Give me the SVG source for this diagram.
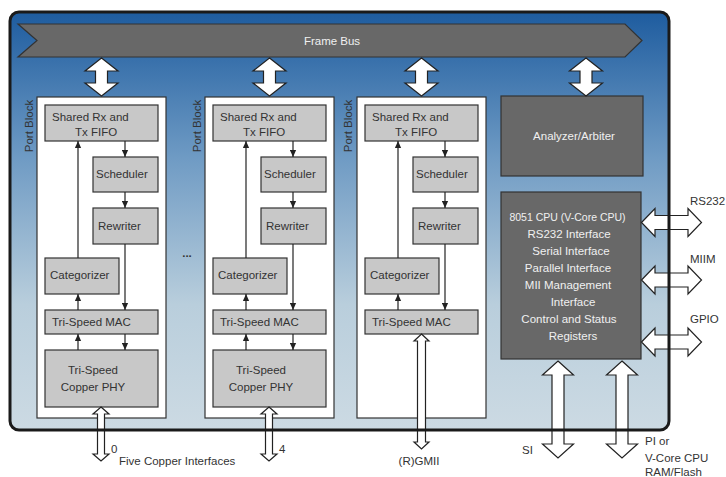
<svg xmlns="http://www.w3.org/2000/svg" width="726" height="477" viewBox="0 0 726 477">
<style>
text{font-family:"Liberation Sans",Arial,sans-serif;font-size:11.5px;fill:#333}
.wt{fill:#f0f0f0}
.port{fill:#fff;stroke:#333;stroke-width:1.2}
.box{fill:#c8c8c8;stroke:#333;stroke-width:1.2}
.dark{fill:#686868;stroke:#333;stroke-width:1.2}
.ln{stroke:#222;stroke-width:1.2;fill:none}
.big{fill:#fff;stroke:#222;stroke-width:1.2;stroke-linejoin:miter}
</style>
<defs>
<linearGradient id="bg" x1="0" y1="0" x2="0" y2="1">
<stop offset="0" stop-color="#1e5c9f"/>
<stop offset="0.35" stop-color="#6f9bc4"/>
<stop offset="0.7" stop-color="#b9cedc"/>
<stop offset="1" stop-color="#ccdae3"/>
</linearGradient>
<marker id="ah" viewBox="0 0 10 10" refX="10" refY="5" markerWidth="7" markerHeight="7" orient="auto" markerUnits="userSpaceOnUse">
<path d="M0,0.5 L10,5 L0,9.5 Z" fill="#222"/>
</marker>
</defs>

<rect id="chip-bg" x="10" y="12" width="659" height="418" rx="9" fill="url(#bg)"/>

<g id="frame-bus">
<polygon points="18,24 625,24 642,40.5 625,57 18,57 37,40.5" fill="#686868" stroke="#333" stroke-width="1.2"/>
<text class="wt" x="332" y="45" text-anchor="middle">Frame Bus</text>
</g>

<g id="port-block-0">
<rect class="port" x="37" y="97" width="129" height="321"/>
<text transform="translate(33,126) rotate(-90)" text-anchor="middle">Port Block</text>
<rect class="box" x="45" y="105" width="113" height="36"/>
<text x="52" y="121">Shared Rx and</text>
<text x="75" y="136">Tx FIFO</text>
<rect class="box" x="93" y="157" width="65" height="35"/>
<text x="96" y="178">Scheduler</text>
<rect class="box" x="93" y="208" width="65" height="36"/>
<text x="98" y="230">Rewriter</text>
<rect class="box" x="45" y="258" width="74" height="36"/>
<text x="50" y="279">Categorizer</text>
<rect class="box" x="45" y="310" width="113" height="24"/>
<text x="52" y="326">Tri-Speed MAC</text>
<rect class="box" x="45" y="350" width="113" height="57"/>
<text x="93" y="374" text-anchor="middle">Tri-Speed</text>
<text x="93" y="391" text-anchor="middle">Copper PHY</text>
</g>

<g id="port-block-4" transform="translate(168,0)">
<rect class="port" x="37" y="97" width="129" height="321"/>
<text transform="translate(33,126) rotate(-90)" text-anchor="middle">Port Block</text>
<rect class="box" x="45" y="105" width="113" height="36"/>
<text x="52" y="121">Shared Rx and</text>
<text x="75" y="136">Tx FIFO</text>
<rect class="box" x="93" y="157" width="65" height="35"/>
<text x="96" y="178">Scheduler</text>
<rect class="box" x="93" y="208" width="65" height="36"/>
<text x="98" y="230">Rewriter</text>
<rect class="box" x="45" y="258" width="74" height="36"/>
<text x="50" y="279">Categorizer</text>
<rect class="box" x="45" y="310" width="113" height="24"/>
<text x="52" y="326">Tri-Speed MAC</text>
<rect class="box" x="45" y="350" width="113" height="57"/>
<text x="93" y="374" text-anchor="middle">Tri-Speed</text>
<text x="93" y="391" text-anchor="middle">Copper PHY</text>
</g>

<g id="port-block-rgmii" transform="translate(320,0)">
<rect class="port" x="37" y="97" width="129" height="321"/>
<text transform="translate(32,126) rotate(-90)" text-anchor="middle">Port Block</text>
<rect class="box" x="45" y="105" width="113" height="36"/>
<text x="52" y="121">Shared Rx and</text>
<text x="75" y="136">Tx FIFO</text>
<rect class="box" x="93" y="157" width="65" height="35"/>
<text x="96" y="178">Scheduler</text>
<rect class="box" x="93" y="208" width="65" height="36"/>
<text x="98" y="230">Rewriter</text>
<rect class="box" x="45" y="258" width="74" height="36"/>
<text x="50" y="279">Categorizer</text>
<rect class="box" x="45" y="310" width="113" height="24"/>
<text x="52" y="326">Tri-Speed MAC</text>
</g>

<g id="ellipsis">
<text x="187" y="257" text-anchor="middle" style="font-weight:bold">...</text>
</g>

<g id="analyzer">
<rect class="dark" x="501" y="96" width="142" height="80"/>
<text class="wt" x="574" y="140" text-anchor="middle">Analyzer/Arbiter</text>
</g>

<g id="cpu">
<rect class="dark" x="501" y="192" width="140" height="167"/>
<g class="wt" text-anchor="middle">
<text class="wt" x="567.5" y="221" style="font-size:10.5px">8051 CPU (V-Core CPU)</text>
<text class="wt" x="569" y="238">RS232 Interface</text>
<text class="wt" x="571" y="255">Serial Interface</text>
<text class="wt" x="568" y="272">Parallel Interface</text>
<text class="wt" x="568" y="289">MII Management</text>
<text class="wt" x="573" y="306">Interface</text>
<text class="wt" x="569" y="323">Control and Status</text>
<text class="wt" x="573" y="340">Registers</text>
</g>
</g>

<g id="connectors">
<g id="inner-arrows-0">
<line class="ln" x1="78" y1="258" x2="78" y2="141" marker-end="url(#ah)"/>
<line class="ln" x1="125" y1="141" x2="125" y2="157" marker-end="url(#ah)"/>
<line class="ln" x1="125" y1="192" x2="125" y2="208" marker-end="url(#ah)"/>
<line class="ln" x1="125" y1="244" x2="125" y2="310" marker-end="url(#ah)"/>
<line class="ln" x1="78" y1="310" x2="78" y2="294" marker-end="url(#ah)"/>
<line class="ln" x1="78" y1="350" x2="78" y2="334" marker-end="url(#ah)"/>
<line class="ln" x1="125" y1="334" x2="125" y2="350" marker-end="url(#ah)"/>
</g>
<g id="inner-arrows-4" transform="translate(168,0)">
<line class="ln" x1="78" y1="258" x2="78" y2="141" marker-end="url(#ah)"/>
<line class="ln" x1="125" y1="141" x2="125" y2="157" marker-end="url(#ah)"/>
<line class="ln" x1="125" y1="192" x2="125" y2="208" marker-end="url(#ah)"/>
<line class="ln" x1="125" y1="244" x2="125" y2="310" marker-end="url(#ah)"/>
<line class="ln" x1="78" y1="310" x2="78" y2="294" marker-end="url(#ah)"/>
<line class="ln" x1="78" y1="350" x2="78" y2="334" marker-end="url(#ah)"/>
<line class="ln" x1="125" y1="334" x2="125" y2="350" marker-end="url(#ah)"/>
</g>
<g id="inner-arrows-rgmii" transform="translate(320,0)">
<line class="ln" x1="78" y1="258" x2="78" y2="141" marker-end="url(#ah)"/>
<line class="ln" x1="125" y1="141" x2="125" y2="157" marker-end="url(#ah)"/>
<line class="ln" x1="125" y1="192" x2="125" y2="208" marker-end="url(#ah)"/>
<line class="ln" x1="125" y1="244" x2="125" y2="310" marker-end="url(#ah)"/>
<line class="ln" x1="78" y1="310" x2="78" y2="294" marker-end="url(#ah)"/>
</g>

<path class="big" d="M101.5,58 L118,71 L107.5,71 L107.5,83 L118,83 L101.5,96 L85,83 L95.5,83 L95.5,71 L85,71 Z"/>
<path class="big" d="M269.5,58 L286,71 L275.5,71 L275.5,83 L286,83 L269.5,96 L253,83 L263.5,83 L263.5,71 L253,71 Z"/>
<path class="big" d="M421.5,58 L438,71 L427.5,71 L427.5,83 L438,83 L421.5,96 L405,83 L415.5,83 L415.5,71 L405,71 Z"/>
<path class="big" d="M586,58 L602.5,71 L592,71 L592,83 L602.5,83 L586,96 L569.5,83 L580,83 L580,71 L569.5,71 Z"/>

<path class="big" d="M641.5,222.5 L655,208.5 L655,215.5 L688,215.5 L688,208.5 L701.5,222.5 L688,236.5 L688,229.5 L655,229.5 L655,236.5 Z"/>
<path class="big" d="M641.5,280 L655,266 L655,273 L688,273 L688,266 L701.5,280 L688,294 L688,287 L655,287 L655,294 Z"/>
<path class="big" d="M641.5,342 L655,328 L655,335 L688,335 L688,328 L701.5,342 L688,356 L688,349 L655,349 L655,356 Z"/>

<path class="big" d="M558,361 L573.5,375 L564,375 L564,444 L573.5,444 L558,458 L542.5,444 L552,444 L552,375 L542.5,375 Z"/>
<path class="big" d="M622,361 L637.5,375 L628,375 L628,444 L637.5,444 L622,458 L606.5,444 L616,444 L616,375 L606.5,375 Z"/>

<path class="big" d="M101,407 L109,414 L104.5,414 L104.5,454 L109,454 L101,461 L93,454 L97.5,454 L97.5,414 L93,414 Z"/>
<path class="big" d="M269,407 L277,414 L272.5,414 L272.5,454 L277,454 L269,461 L261,454 L265.5,454 L265.5,414 L261,414 Z"/>
<path class="big" d="M421.5,334 L429,341 L425.5,341 L425.5,442 L429,442 L421.5,449 L414,442 L417.5,442 L417.5,341 L414,341 Z"/>
</g>

<rect id="chip-border" x="10" y="12" width="659" height="418" rx="9" fill="none" stroke="#1a1a1a" stroke-width="3"/>

<g id="labels">
<text x="690" y="205">RS232</text>
<text x="690" y="263">MIIM</text>
<text x="690" y="323">GPIO</text>
<text x="522" y="454">SI</text>
<text x="645" y="445">PI or</text>
<text x="645" y="462">V-Core CPU</text>
<text x="645" y="476">RAM/Flash</text>
<text x="111" y="453">0</text>
<text x="119" y="465">Five Copper Interfaces</text>
<text x="279" y="453">4</text>
<text x="419" y="465" text-anchor="middle">(R)GMII</text>
</g>
</svg>
